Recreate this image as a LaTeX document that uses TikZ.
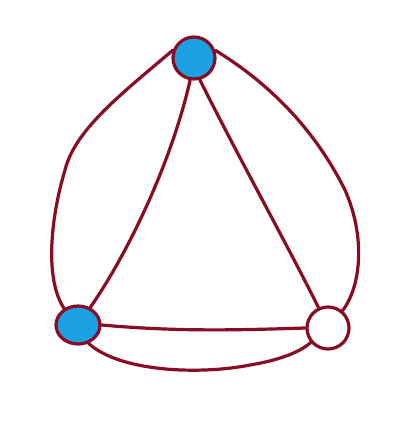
\documentclass[tikz,border=0pt]{standalone}
\usetikzlibrary{shapes.geometric}
\begin{document}
\begin{tikzpicture}[x=1pt,y=-1pt,
  edge/.style={draw=wine,line width=3.2pt,line cap=round,line join=round},
  vtx/.style={circle,draw=wine,line width=3.2pt,minimum size=40pt,inner sep=0pt},
  filled/.style={vtx,fill=skyblue},
  empty/.style={vtx,fill=white}]
\definecolor{wine}{HTML}{870C24}
\definecolor{skyblue}{HTML}{1BA0E2}
\useasboundingbox[fill=white] (0,0) rectangle (415,428);
\node[filled,minimum size=42pt] (t) at (194,58) {};
\node[filled,ellipse,minimum width=44pt,minimum height=38pt] (l) at (78,325) {};
\node[empty,minimum size=42pt] (r) at (328,328) {};
% straight-ish edges
\draw[edge] (t.260) .. controls (172,160) and (130,250) .. (l.55);
\draw[edge] (t.285) .. controls (240,160) and (290,250) .. (r.115);
\draw[edge] (l.0) .. controls (180,332) and (240,330) .. (r.180);
% outer curves
\draw[edge] (t.160) .. controls (120,95) and (75,130) .. (65,170) .. controls (50,220) and (45,280) .. (l.130);
\draw[edge] (t.20) .. controls (280,90) and (320,140) .. (345,190) .. controls (365,235) and (362,285) .. (r.50);
\draw[edge] (l.300) .. controls (120,372) and (200,375) .. (250,365) .. controls (280,360) and (300,352) .. (r.220);
\end{tikzpicture}
\end{document}
